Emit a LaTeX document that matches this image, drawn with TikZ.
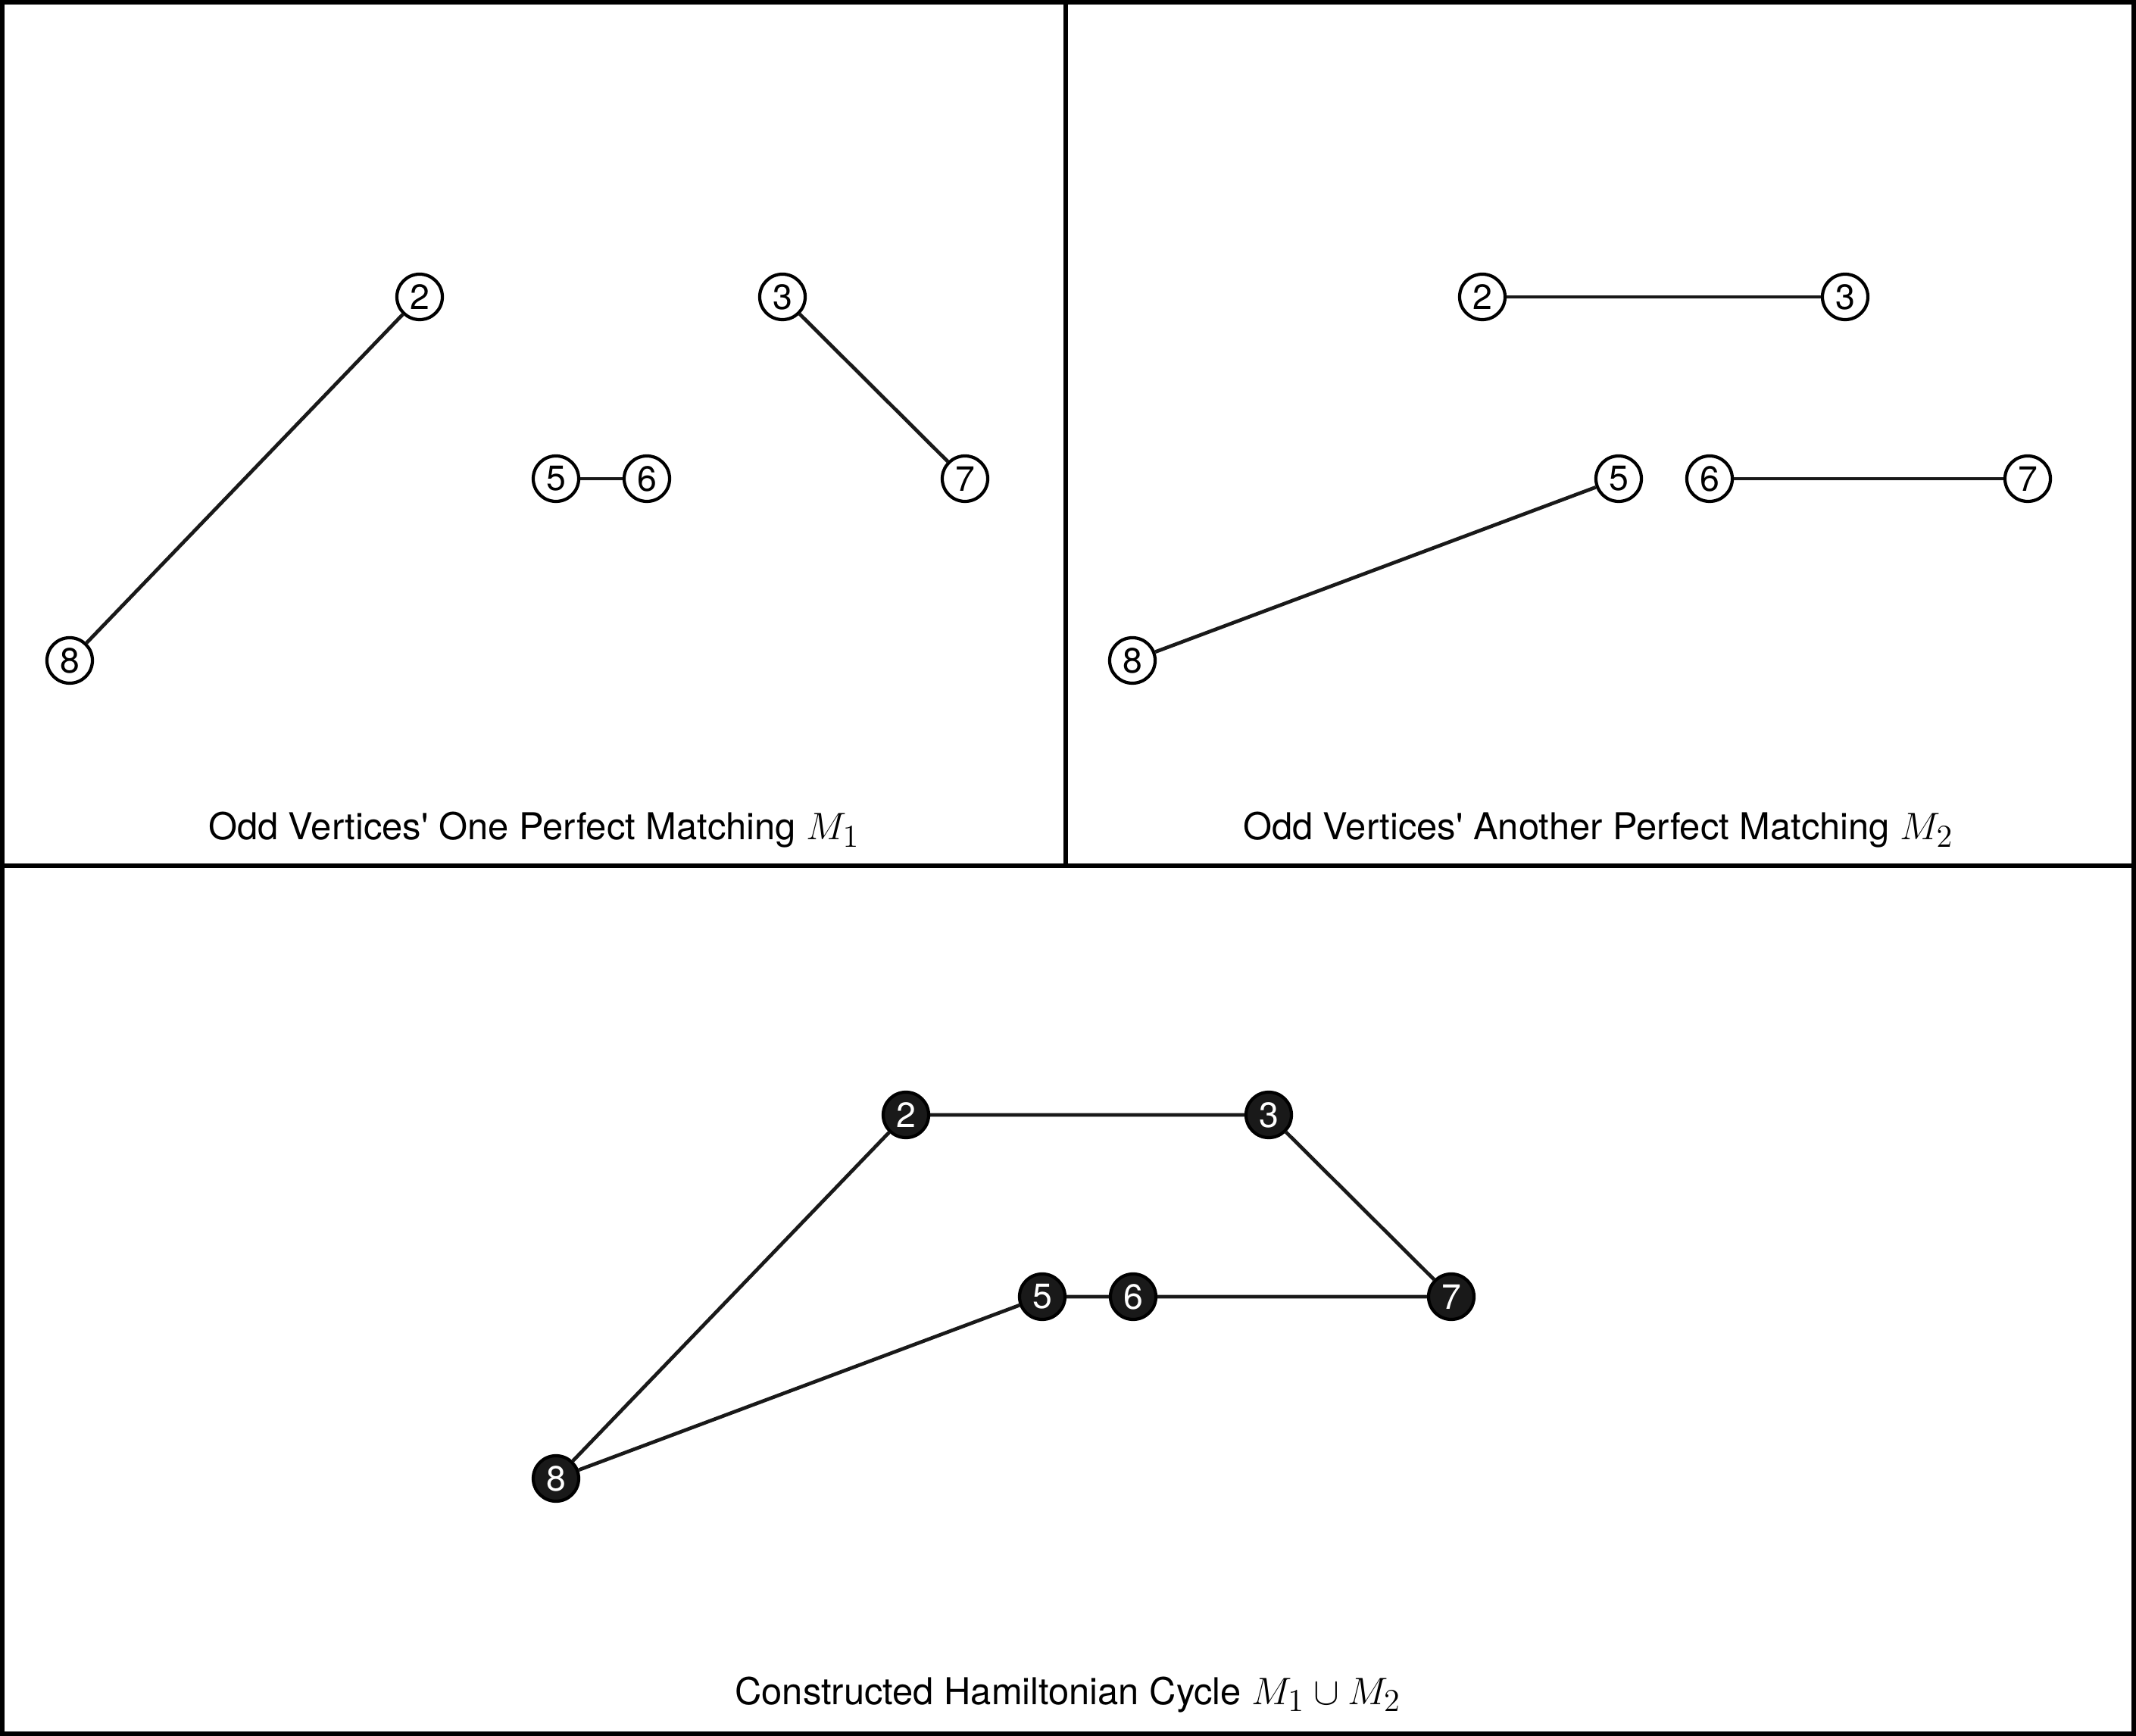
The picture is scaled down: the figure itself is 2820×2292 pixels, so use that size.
\documentclass[tikz,border=0pt]{standalone}
\usepackage{amsmath,amssymb}
\usepackage[no-math]{fontspec}
\setmainfont{TeX Gyre Heros}
\usepackage{tikz}
\DeclareMathSizes{15.5}{15.5}{12.5}{10}

\begin{document}
\begin{tikzpicture}[x=0.01cm,y=-0.01cm,
  vtx/.style={circle,draw=black,line width=1.2pt,minimum size=0.6cm,inner sep=0pt,fill=white,font=\fontsize{13.2}{13}\selectfont},
  vtxb/.style={vtx,fill=black!90,text=white},
  edge/.style={line width=1.35pt,draw=black!90},
  frame/.style={line width=1.7pt},
  cap1/.style={anchor=base,font=\fontsize{13.9}{16}\selectfont}]
 \useasboundingbox (0,0) rectangle (2820,2292); % 画像の大きさ

 \coordinate (FS) at (3,3); % 枠の左上
 \coordinate (FL) at (2817,2289); % 枠の右下
 \coordinate (VS) at (1407,3); % 縦線の上
 \coordinate (VL) at (1407,1143); % 縦線の下
 \coordinate (HS) at (3,1143); % 横線の左
 \coordinate (HL) at (2817,1143); % 横線の右

 \draw[frame] (FS) rectangle (FL); % 外枠
 \draw[frame] (VS) -- (VL); % 縦の区切り
 \draw[frame] (HS) -- (HL); % 横の区切り

 % 左上 M_1
 \node[vtx] (a2) at (554,392) {2};
 \node[vtx] (a3) at (1033,392) {3};
 \node[vtx] (a5) at (734,632) {5};
 \node[vtx] (a6) at (854,632) {6};
 \node[vtx] (a7) at (1274,632) {7};
 \node[vtx] (a8) at (92,872) {8};
 \draw[edge] (a8) -- (a2); % 辺
 \draw[edge] (a5) -- (a6); % 辺
 \draw[edge] (a3) -- (a7); % 辺
 \node[cap1] (t1) at (705,1109) {Odd Vertices\textquotesingle\ One Perfect Matching {\fontsize{15.5}{16}\selectfont$M_1$}};

 % 右上 M_2
 \begin{scope}[shift={(1403,0)}]
 \node[vtx] (b2) at (554,392) {2};
 \node[vtx] (b3) at (1033,392) {3};
 \node[vtx] (b5) at (734,632) {5};
 \node[vtx] (b6) at (854,632) {6};
 \node[vtx] (b7) at (1274,632) {7};
 \node[vtx] (b8) at (92,872) {8};
 \draw[edge] (b2) -- (b3); % 辺
 \draw[edge] (b8) -- (b5); % 辺
 \draw[edge] (b6) -- (b7); % 辺
 \end{scope}
 \node[cap1] (t2) at (2110,1109) {Odd Vertices\textquotesingle\ Another Perfect Matching {\fontsize{15.5}{16}\selectfont$M_2$}};

 % 下 M_1 \cup M_2
 \begin{scope}[shift={(642,1080)}]
 \node[vtxb] (c2) at (554,392) {2};
 \node[vtxb] (c3) at (1033,392) {3};
 \node[vtxb] (c5) at (734,632) {5};
 \node[vtxb] (c6) at (854,632) {6};
 \node[vtxb] (c7) at (1274,632) {7};
 \node[vtxb] (c8) at (92,872) {8};
 \draw[edge] (c8) -- (c2) -- (c3) -- (c7) -- (c6) -- (c5) -- (c8); % 閉路
 \end{scope}
 \node[cap1] (t3) at (1410,2250) {Constructed Hamiltonian Cycle {\fontsize{15.5}{16}\selectfont$M_1 \cup M_2$}};
\end{tikzpicture}
\end{document}
